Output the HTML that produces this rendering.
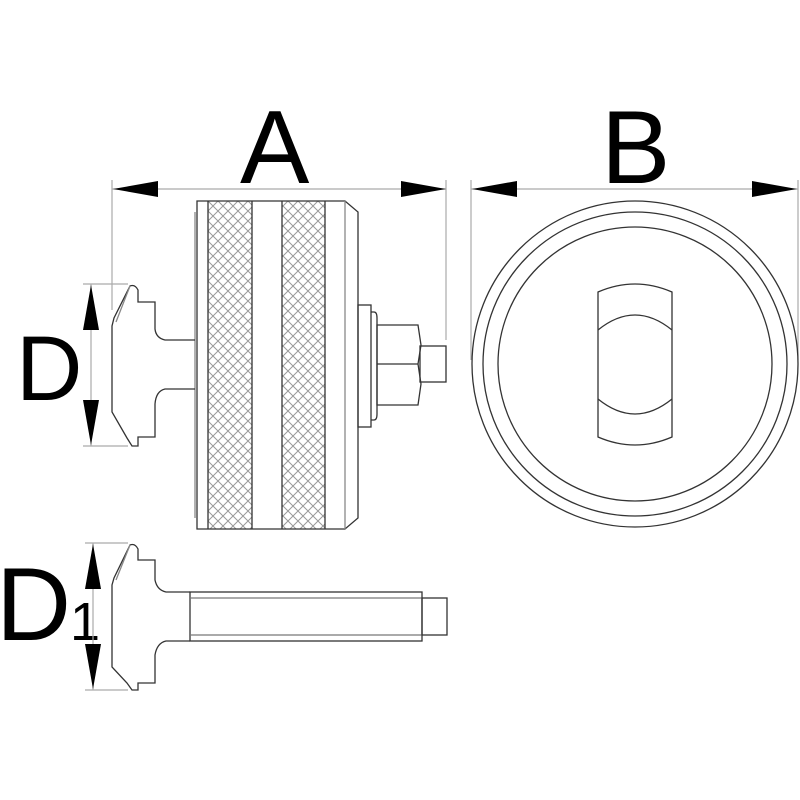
<!DOCTYPE html>
<html><head><style>html,body{margin:0;padding:0;background:#fff}svg{display:block}</style></head>
<body>
<svg width="800" height="800" viewBox="0 0 800 800" xmlns="http://www.w3.org/2000/svg">
<defs>
<pattern id="kn" width="10" height="10" patternUnits="userSpaceOnUse" x="208" y="201">
<path d="M0 0L10 10M10 0L0 10" stroke="#999" stroke-width="1"/>
</pattern>
</defs>
<g font-family="Liberation Sans, sans-serif" fill="#000">
<text x="240" y="183" font-size="104">A</text>
<text x="601" y="183" font-size="104">B</text>
<text x="16" y="400" font-size="92">D</text>
<text x="-4" y="640" font-size="104">D</text>
<text x="70" y="640" font-size="54">1</text>
</g>
<g stroke="#aaa" stroke-width="1.2" fill="none">
<line x1="112" y1="180" x2="112" y2="310"/>
<line x1="446" y1="180" x2="446" y2="340"/>
<line x1="112" y1="189" x2="446" y2="189"/>
<line x1="471" y1="180" x2="471" y2="360"/>
<line x1="798" y1="180" x2="798" y2="360"/>
<line x1="471" y1="189" x2="798" y2="189"/>
<line x1="83" y1="284" x2="128" y2="284"/>
<line x1="83" y1="446" x2="128" y2="446"/>
<line x1="91" y1="284" x2="91" y2="446"/>
<line x1="85" y1="543" x2="128" y2="543"/>
<line x1="85" y1="690" x2="128" y2="690"/>
<line x1="93" y1="543" x2="93" y2="690"/>
</g>
<g fill="#000">
<path d="M113 189L158 181L158 197Z"/>
<path d="M446 189L401 181L401 197Z"/>
<path d="M472 189L517 181L517 197Z"/>
<path d="M797 189L752 181L752 197Z"/>
<path d="M91 285L83 330L99 330Z"/>
<path d="M91 445L83 400L99 400Z"/>
<path d="M93 544L85 589L101 589Z"/>
<path d="M93 689L85 644L101 644Z"/>
</g>
<g stroke="#333" stroke-width="1.3" fill="none">
<rect x="208" y="201" width="44" height="328" fill="url(#kn)" stroke="none"/>
<rect x="282" y="201" width="43" height="328" fill="url(#kn)" stroke="none"/>
<path d="M197 201H345L358 212V518L345 529H197Z"/>
<line x1="208" y1="201" x2="208" y2="529"/>
<line x1="252" y1="201" x2="252" y2="529"/>
<line x1="282" y1="201" x2="282" y2="529"/>
<line x1="325" y1="201" x2="325" y2="529"/>
<line x1="345" y1="201" x2="345" y2="529" stroke="#888"/>
<line x1="195" y1="212" x2="195" y2="518" stroke="#888"/>
<rect x="358" y="305" width="13" height="122"/>
<path d="M371 312H374Q377 312 377 318V414Q377 420 374 420H371"/>
<path d="M377 325H418L421 345L418 364L421 384L418 405H377Z"/>
<line x1="377" y1="364" x2="418" y2="364"/>
<rect x="420" y="346" width="26" height="36"/>
<path d="M195 340H165Q156 338 155 329V302H138V290Q135 284 130 286L114 318L112 326V412L127 438L132 446H138V437H155V404Q156 391 165 389H195"/>
<path d="M130 286L116 322" stroke="#888"/>
<path d="M190 592H166Q157 590 155 580V560H138V549Q135 543 130 545L114 578L112 585V667L127 683L132 690H138V683H155V655Q157 643 166 641H190"/>
<path d="M130 545L116 580" stroke="#888"/>
<rect x="190" y="592" width="232" height="49"/>
<line x1="190" y1="598" x2="422" y2="598" stroke="#777"/>
<line x1="190" y1="635" x2="422" y2="635" stroke="#777"/>
<rect x="422" y="598" width="25" height="37"/>
<circle cx="635" cy="364" r="163"/>
<circle cx="635" cy="364" r="152"/>
<circle cx="635" cy="364" r="137"/>
<path d="M598 292Q635 276 672 292V437Q635 453 598 437Z"/>
<path d="M598 330Q635 300 672 330"/>
<path d="M598 399Q635 429 672 399"/>
</g>
</svg>
</body></html>
